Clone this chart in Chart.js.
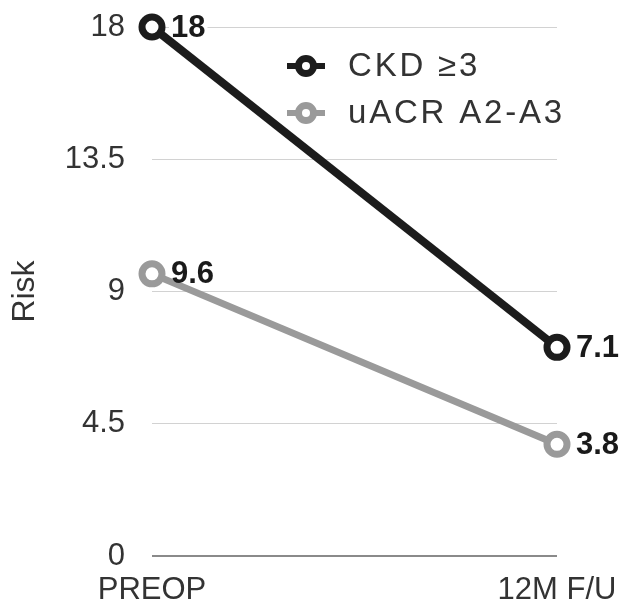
<!DOCTYPE html>
<html>
<head>
<meta charset="utf-8">
<script src="https://cdn.jsdelivr.net/npm/chart.js@4.4.1/dist/chart.umd.min.js"></script>
<style>
  html, body { margin: 0; padding: 0; background: #fff; }
  #wrap { width: 627px; height: 608px; position: relative; }
</style>
</head>
<body>
<div id="wrap"><canvas id="c" width="627" height="608"></canvas></div>
<script>
// Timepoints and risk values
const categories = ['PREOP', '12M F/U'];
const seriesNames = ['CKD \u22653', 'uACR A2-A3'];
const ckdValues = [18, 7.1];
const uacrValues = [9.6, 3.8];
const yTicks = [0, 4.5, 9, 13.5, 18];

const FONT = '"Liberation Sans", Arial, Helvetica, sans-serif';
const BLACK = '#1c1c1c';
const GREY = '#9a9a9a';

// Bold value labels beside each point, on a white patch that hides the grid behind them
const valueLabels = {
  id: 'valueLabels',
  _items(chart) {
    const out = [];
    chart.data.datasets.forEach((ds, i) => {
      const meta = chart.getDatasetMeta(i);
      meta.data.forEach((pt, j) => {
        out.push({ x: pt.x + 19, y: pt.y, text: String(ds.data[j]) });
      });
    });
    return out;
  },
  beforeDatasetsDraw(chart) {
    const ctx = chart.ctx;
    ctx.save();
    ctx.font = 'bold 31px ' + FONT;
    ctx.fillStyle = '#ffffff';
    this._items(chart).forEach(it => {
      const w = ctx.measureText(it.text).width;
      ctx.fillRect(it.x - 2, it.y - 13, w + 4, 26);
    });
    ctx.restore();
  },
  afterDatasetsDraw(chart) {
    const ctx = chart.ctx;
    ctx.save();
    ctx.font = 'bold 31px ' + FONT;
    ctx.fillStyle = '#1a1a1a';
    ctx.textAlign = 'left';
    ctx.textBaseline = 'middle';
    this._items(chart).forEach(it => ctx.fillText(it.text, it.x, it.y + 1));
    ctx.restore();
  }
};

// Legend drawn inside the plot area: short line knobs with a hollow marker, then the series name
const innerLegend = {
  id: 'innerLegend',
  afterDraw(chart) {
    const ctx = chart.ctx;
    const x0 = 287, x1 = 325, cx = 306, tx = 348;
    const rows = [66, 113];
    ctx.save();
    chart.data.datasets.forEach((ds, i) => {
      const y = rows[i];
      ctx.strokeStyle = ds.borderColor;
      ctx.lineWidth = 6;
      ctx.beginPath();
      ctx.moveTo(x0, y); ctx.lineTo(x1, y);
      ctx.stroke();
      ctx.beginPath();
      ctx.arc(cx, y, 7.5, 0, Math.PI * 2);
      ctx.fillStyle = '#ffffff';
      ctx.fill();
      ctx.lineWidth = 7;
      ctx.stroke();
      ctx.font = '33px ' + FONT;
      ctx.letterSpacing = '2.8px';
      ctx.fillStyle = '#333333';
      ctx.textAlign = 'left';
      ctx.textBaseline = 'middle';
      ctx.fillText(ds.label, tx, y + 1);
      ctx.letterSpacing = '0px';
    });
    ctx.restore();
  }
};

new Chart(document.getElementById('c'), {
  type: 'line',
  data: {
    labels: categories,
    datasets: [
      {
        label: seriesNames[0],
        data: ckdValues,
        borderColor: BLACK,
        backgroundColor: '#ffffff',
        borderWidth: 8,
        pointRadius: 10,
        pointBorderWidth: 7,
        pointBackgroundColor: '#ffffff',
        pointBorderColor: BLACK,
        clip: false,
        order: 1
      },
      {
        label: seriesNames[1],
        data: uacrValues,
        borderColor: GREY,
        backgroundColor: '#ffffff',
        borderWidth: 7,
        pointRadius: 10,
        pointBorderWidth: 7,
        pointBackgroundColor: '#ffffff',
        pointBorderColor: GREY,
        clip: false,
        order: 2
      }
    ]
  },
  options: {
    responsive: false,
    animation: false,
    events: [],
    layout: { autoPadding: false, padding: { left: 0, right: 70, top: 27, bottom: 0 } },
    plugins: {
      legend: { display: false },
      tooltip: { enabled: false }
    },
    scales: {
      x: {
        offset: false,
        grid: { display: false },
        border: { display: false },
        ticks: {
          color: '#333333',
          font: { family: FONT, size: 31 },
          padding: 8,
          maxRotation: 0,
          autoSkip: false
        },
        afterFit(scale) { scale.height = 52; }
      },
      y: {
        min: 0,
        max: 18,
        afterBuildTicks(scale) { scale.ticks = yTicks.map(v => ({ value: v })); },
        grid: {
          drawTicks: false,
          color: ctx => (ctx.tick && ctx.tick.value === 0 ? '#8a8a8a' : '#d2d2d2'),
          lineWidth: ctx => (ctx.tick && ctx.tick.value === 0 ? 2 : 1)
        },
        border: { display: false },
        ticks: {
          color: '#333333',
          font: { family: FONT, size: 31 },
          padding: 27
        },
        title: {
          display: true,
          text: 'Risk',
          color: '#333333',
          font: { family: FONT, size: 32 },
          padding: { top: 6, bottom: 0 }
        },
        afterFit(scale) {
          scale.width = 152;
          scale.paddingTop = 0;
          scale.paddingBottom = 0;
        }
      }
    }
  },
  plugins: [valueLabels, innerLegend]
});
</script>
</body>
</html>
